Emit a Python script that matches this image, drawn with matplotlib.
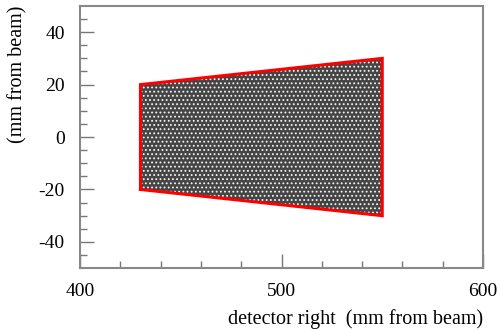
"""
Detector acceptance: hit region on the right detector plane, with its outline.
"""

import matplotlib

matplotlib.use("Agg")
import matplotlib.pyplot as plt

# outline corners of the accepted region (mm from beam)
EDGE_X = [430, 430, 550, 550, 430]
EDGE_Y = [-20, 20, 30, -30, -20]

X_LIMITS = (400, 600)
Y_LIMITS = (-50, 50)
X_MAJOR = [400, 500, 600]
Y_MAJOR = [-40, -20, 0, 20, 40]

plt.rcParams["font.family"] = ["Liberation Serif", "DejaVu Serif"]
plt.rcParams["axes.unicode_minus"] = False
plt.rcParams["hatch.linewidth"] = 0.8

fig = plt.figure(figsize=(5.0, 3.31), dpi=100)
ax = fig.add_axes([0.16, 0.19, 0.806, 0.792])

# dense hits inside the region, drawn as a speckled texture
ax.fill(EDGE_X, EDGE_Y, facecolor="#454545", edgecolor="#f4f4f4",
        hatch="....", linewidth=0)
ax.plot(EDGE_X, EDGE_Y, color="red", linewidth=2.2, solid_joinstyle="miter")

ax.set_xlim(*X_LIMITS)
ax.set_ylim(*Y_LIMITS)
ax.set_xticks(X_MAJOR)
ax.set_yticks(Y_MAJOR)
ax.set_xticks(range(420, 600, 20), minor=True)
ax.set_yticks(range(-45, 50, 5), minor=True)
ax.tick_params(which="both", direction="in", colors="#777777", labelcolor="black",
               labelsize=14, width=1.0)
ax.tick_params(which="major", length=10, pad=11)
ax.tick_params(which="minor", length=5)
for spine in ax.spines.values():
    spine.set_color("#888888")
    spine.set_linewidth(1.5)

ax.set_xlabel("detector right  (mm from beam)", fontsize=14.5, loc="right", labelpad=6)
ax.set_ylabel("(mm from beam)", fontsize=14.5, loc="top", labelpad=8)

fig.savefig("out.png", dpi=100)
